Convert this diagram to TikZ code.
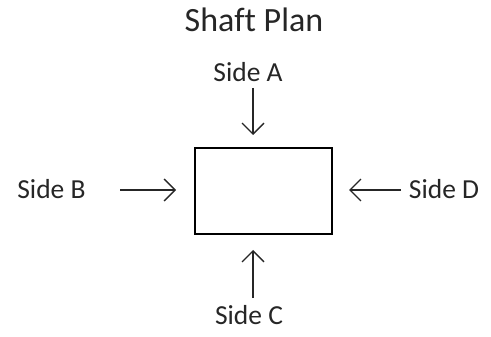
\documentclass[tikz,border=0pt]{standalone}
\usepackage{fontspec}
\setmainfont[Ligatures=NoCommon]{Carlito}
\usetikzlibrary{arrows.meta}
\begin{document}
\begin{tikzpicture}[x=1pt, y=-1pt,
    sidelabel/.style={anchor=base, inner sep=0pt, font=\fontsize{27.5}{32}\selectfont, text=black!85},
    sidearrow/.style={line width=1.4pt, draw=black!85, -{Straight Barb[length=11pt, width=22pt, line width=1.4pt]}}]
    \useasboundingbox (0,0) rectangle (491,337);
    \node[anchor=base, inner sep=0pt, font=\fontsize{34}{40}\selectfont, text=black!85] (title) at (254,32) {Shaft Plan};
    \node[draw, line width=2pt, minimum width=137pt, minimum height=86pt, inner sep=0pt] (shaft) at (263.5,191) {};
    \node[sidelabel] (sideA) at (248,82) {Side A};
    \node[sidelabel] (sideB) at (51.5,199) {Side B};
    \node[sidelabel] (sideC) at (249,324) {Side C};
    \node[sidelabel] (sideD) at (444,199) {Side D};
    \coordinate (a1) at (253,88);
    \coordinate (a2) at (253,135);
    \coordinate (b1) at (120,190);
    \coordinate (b2) at (176,190);
    \coordinate (c1) at (253,298);
    \coordinate (c2) at (253,250);
    \coordinate (d1) at (401,190);
    \coordinate (d2) at (349,190);
    \draw[sidearrow] (a1) -- (a2);
    \draw[sidearrow] (b1) -- (b2);
    \draw[sidearrow] (c1) -- (c2);
    \draw[sidearrow] (d1) -- (d2);
\end{tikzpicture}
\end{document}
